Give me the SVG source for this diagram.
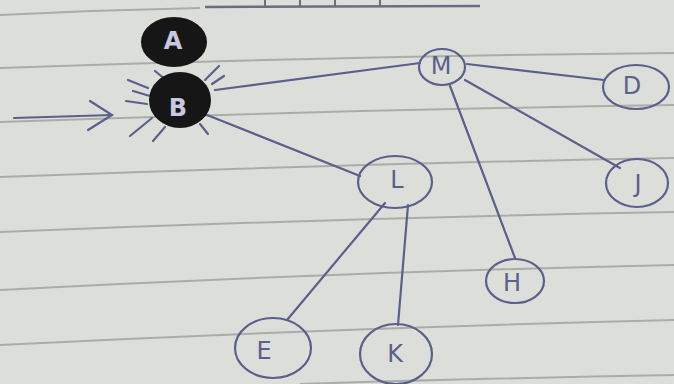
<svg xmlns="http://www.w3.org/2000/svg" width="674" height="384" viewBox="0 0 674 384">
<style>
.paper{stroke:#a9ada9;stroke-width:2;fill:none}
.ink{stroke:#5b5f8c;stroke-width:2.2;fill:none;stroke-linecap:round}
.node{stroke:#5b5f8c;stroke-width:2.2;fill:none}
.dark{fill:#161616;stroke:#161616;stroke-width:2}
.lbl{font-family:"DejaVu Sans",sans-serif;font-size:24px;fill:#5b5f8c;text-anchor:middle;dominant-baseline:central}
.lbld{font-family:"DejaVu Sans",sans-serif;font-size:24px;fill:#c8c8e0;text-anchor:middle;dominant-baseline:central;font-weight:bold}
</style>
<rect width="674" height="384" fill="#dcdfd9"/>
<g id="paper">
<path class="paper" d="M0 68 Q340 56 674 53"/>
<path class="paper" d="M0 122 Q340 110 674 105"/>
<path class="paper" d="M0 177 Q340 164 674 158"/>
<path class="paper" d="M0 232 Q340 218 674 212"/>
<path class="paper" d="M0 290 Q340 272 674 265"/>
<path class="paper" d="M0 345 Q340 328 674 320"/>
<path class="paper" d="M300 384 Q500 378 674 375"/>
<path class="paper" d="M0 15 Q100 10 200 8"/>
<path d="M205 7 L480 6" stroke="#6a6d80" stroke-width="2.5" fill="none"/>
<path d="M265 0 V8 M300 0 V7 M335 0 V7 M380 0 V7" stroke="#6a6d80" stroke-width="2" fill="none"/>
</g>
<g id="connectors">
<path class="ink" d="M14 118 L112 115"/>
<path class="ink" d="M90 101 L112 115 L88 130"/>
<path class="ink" d="M215 90 L420 63"/>
<path class="ink" d="M207 115 L360 176"/>
<path class="ink" d="M467 64 L604 80"/>
<path class="ink" d="M465 80 L620 168"/>
<path class="ink" d="M450 86 L515 258"/>
<path class="ink" d="M385 203 L287 320"/>
<path class="ink" d="M408 205 L398 325"/>
</g>
<g id="node-A">
<ellipse class="dark" cx="174" cy="42" rx="32" ry="24"/>
<text class="lbld" x="173" y="41">A</text>
</g>
<g id="node-B">
<g class="ink" stroke-width="2">
<path d="M128 80 L148 88"/><path d="M133 91 L150 96"/><path d="M126 101 L147 104"/>
<path d="M155 71 L166 80"/><path d="M219 66 L205 80"/><path d="M224 76 L212 84"/>
<path d="M130 136 L152 118"/><path d="M153 141 L165 127"/><path d="M200 124 L208 134"/>
</g>
<ellipse class="dark" cx="180" cy="100" rx="30" ry="27"/>
<text class="lbld" x="178" y="108" font-size="16">B</text>
</g>
<g id="node-M"><ellipse class="node" cx="442" cy="67" rx="23" ry="18"/><text class="lbl" x="441" y="66" font-size="20">M</text></g>
<g id="node-D"><ellipse class="node" cx="636" cy="87" rx="33" ry="22"/><text class="lbl" x="632" y="86">D</text></g>
<g id="node-J"><ellipse class="node" cx="637" cy="183" rx="31" ry="24"/><text class="lbl" x="638" y="184">J</text></g>
<g id="node-L"><ellipse class="node" cx="395" cy="182" rx="37" ry="26"/><text class="lbl" x="397" y="180">L</text></g>
<g id="node-H"><ellipse class="node" cx="515" cy="281" rx="29" ry="22"/><text class="lbl" x="512" y="283">H</text></g>
<g id="node-E"><ellipse class="node" cx="273" cy="348" rx="38" ry="30"/><text class="lbl" x="264" y="351">E</text></g>
<g id="node-K"><ellipse class="node" cx="396" cy="354" rx="36" ry="30"/><text class="lbl" x="395" y="354">K</text></g>
</svg>
